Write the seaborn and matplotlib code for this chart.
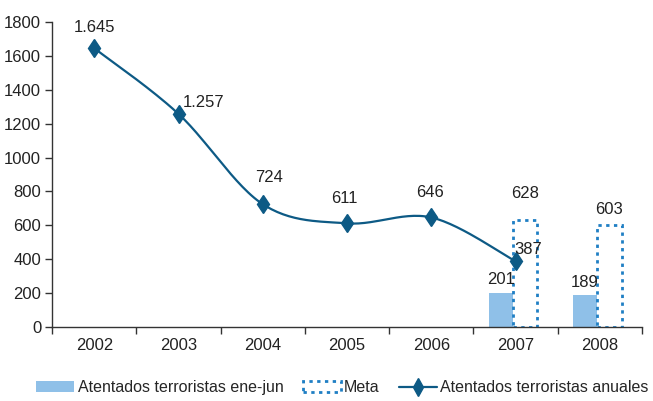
import numpy as np
import pandas as pd
import matplotlib
matplotlib.use("Agg")
import matplotlib.pyplot as plt
from matplotlib.patches import Patch
from matplotlib.lines import Line2D
import seaborn as sns

years = ["2002", "2003", "2004", "2005", "2006", "2007", "2008"]
anual_years = ["2002", "2003", "2004", "2005", "2006", "2007"]
anual_values = [1645, 1257, 724, 611, 646, 387]
anual_labels = ["1.645", "1.257", "724", "611", "646", "387"]
bar_years = ["2007", "2008"]
enejun_values = [201, 189]
meta_values = [628, 603]

s_enejun = "Atentados terroristas ene-jun"
s_meta = "Meta"
s_anual = "Atentados terroristas anuales"

c_bar = "#8fc0e8"
c_meta = "#1f7fc4"
c_line = "#0d5a85"
c_text = "#222222"
FS = 12

sns.set_theme(style="white")
plt.rcParams["font.family"] = ["Liberation Sans", "DejaVu Sans"]
plt.rcParams["font.size"] = FS

fig = plt.figure(figsize=(6.53, 4.01), dpi=100)
ax = fig.add_axes([0.080, 0.185, 0.903, 0.760])

df = pd.DataFrame({
    "year": bar_years * 2,
    "value": enejun_values + meta_values,
    "series": [s_enejun] * 2 + [s_meta] * 2,
})
sns.barplot(data=df, x="year", y="value", hue="series", order=years,
            hue_order=[s_enejun, s_meta], palette=[c_bar, c_bar],
            width=0.58, dodge=True, legend=False, ax=ax, saturation=1)

# style meta bars: dotted outline, no fill; shift group slightly left as in reference
meta_patches = [p for p in ax.patches if p.get_height() in meta_values]
for p in ax.patches:
    p.set_x(p.get_x() - 0.03)
    if p in meta_patches:
        p.set_facecolor("none")
        p.set_edgecolor(c_meta)
        p.set_linestyle((0, (1.2, 1.6)))
        p.set_linewidth(2.0)
    else:
        p.set_edgecolor("none")

# bar labels (offsets in data units, as placed in the reference)
bar_offsets = {201: 35, 189: 30, 628: 115, 603: 45}
for p in ax.patches:
    h = p.get_height()
    if np.isnan(h):
        continue
    cx = p.get_x() + p.get_width() / 2
    ax.text(cx, h + bar_offsets.get(int(h), 30), f"{int(h)}", ha="center",
            va="bottom", fontsize=FS, color=c_text)

# smoothed line (Excel-style Bezier through data points, computed in pixel-like space)
xpos = np.array([years.index(y) for y in anual_years], dtype=float)
yval = np.array(anual_values, dtype=float)
sx, sy = 84.3, 305 / 1800
P = np.column_stack([xpos * sx, yval * sy])
curve = []
n = len(P)
for i in range(n - 1):
    p0 = P[i - 1] if i > 0 else P[i]
    p1 = P[i]
    p2 = P[i + 1]
    p3 = P[i + 2] if i + 2 < n else P[i + 1]
    b1 = p1 + (p2 - p0) / 6
    b2 = p2 - (p3 - p1) / 6
    t = np.linspace(0, 1, 30)[:, None]
    seg = ((1 - t) ** 3) * p1 + 3 * ((1 - t) ** 2) * t * b1 + 3 * (1 - t) * t ** 2 * b2 + t ** 3 * p2
    curve.append(seg if i == 0 else seg[1:])
curve = np.vstack(curve)
ax.plot(curve[:, 0] / sx, curve[:, 1] / sy, color=c_line, lw=1.6, zorder=4)
ax.plot(xpos, yval, linestyle="none", marker="d", markersize=9.5, color=c_line, zorder=5)

# line labels: (dx, dy, ha)
offsets = {
    "2002": (0.0, 125, "center"),
    "2003": (0.05, 70, "left"),
    "2004": (0.07, 155, "center"),
    "2005": (-0.03, 145, "center"),
    "2006": (-0.01, 145, "center"),
    "2007": (-0.01, 67, "left"),
}
for y, v, lab in zip(anual_years, anual_values, anual_labels):
    dx, dy, ha = offsets[y]
    ax.text(years.index(y) + dx, v + dy, lab, ha=ha, va="center", fontsize=FS,
            color=c_text, zorder=6)

ax.set_xlim(-0.5, 6.5)
ax.set_ylim(0, 1800)
ax.set_yticks(np.arange(0, 1801, 200))
ax.set_xticks(range(len(years)))
ax.set_xticklabels(years)
ax.set_xticks(np.arange(-0.5, 6.6, 1), minor=True)
ax.set_xlabel("")
ax.set_ylabel("")
ax.tick_params(axis="x", which="major", length=0, pad=8, labelsize=FS, colors=c_text)
ax.tick_params(axis="x", which="minor", length=5, width=1, color="#333333", direction="out", bottom=True)
ax.tick_params(axis="y", length=5, width=1, color="#333333", direction="out", left=True,
               labelsize=FS, colors=c_text, pad=3)
for s in ["top", "right"]:
    ax.spines[s].set_visible(False)
for s in ["left", "bottom"]:
    ax.spines[s].set_color("#333333")
    ax.spines[s].set_linewidth(1)
ax.grid(False)

handles = [
    Patch(facecolor=c_bar, edgecolor="none", label=s_enejun),
    Patch(facecolor="none", edgecolor=c_meta, linestyle=(0, (1.2, 1.6)), linewidth=2, label=s_meta),
    Line2D([0], [0], color=c_line, lw=1.6, marker="d", markersize=9, label=s_anual),
]
fig.legend(handles=handles, loc="center", bbox_to_anchor=(0.5245, 0.033), ncol=3,
           frameon=False, fontsize=11.5, handlelength=2.4, handletextpad=0.2,
           columnspacing=1.2, borderaxespad=0)

fig.savefig("out.png", dpi=100)
